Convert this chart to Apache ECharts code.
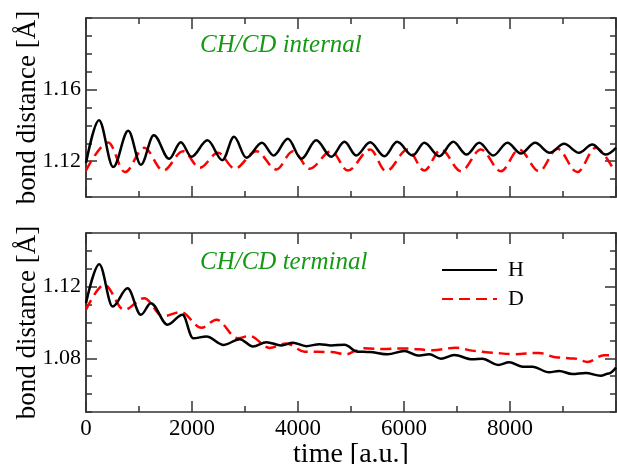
<!DOCTYPE html>
<html>
<head>
<meta charset="utf-8">
<script src="https://cdn.jsdelivr.net/npm/echarts@6/dist/echarts.min.js"></script>
<style>
html,body{margin:0;padding:0;background:#fff;}
#chart{width:617px;height:464px;}
</style>
</head>
<body>
<div id="chart"></div>
<script>
// ---- Data (time in a.u., bond distance in Å) ----
const legendNames = ['H', 'D'];
const panelTitles = ['CH/CD internal', 'CH/CD terminal'];
const xTickLabels = [0, 2000, 4000, 6000, 8000];
const yTickLabelsTop = [1.12, 1.16];
const yTickLabelsBottom = [1.08, 1.12];

// internal, H
const tIntH = [0, 245, 514, 797, 1036, 1280, 1569, 1789, 1990, 2292, 2574, 2793, 3026, 3320, 3540, 3809, 4062, 4344, 4627, 4877, 5097, 5361, 5630, 5869, 6163, 6383, 6666, 6929, 7180, 7419, 7683, 7952, 8204, 8474, 8750, 9020, 9302, 9553, 9805, 10000];
const vIntH = [1.119, 1.1429, 1.1167, 1.137, 1.118, 1.1345, 1.1213, 1.1306, 1.1225, 1.1317, 1.1206, 1.1336, 1.1219, 1.1303, 1.1232, 1.1325, 1.1213, 1.1317, 1.1225, 1.1308, 1.1232, 1.1306, 1.1228, 1.1308, 1.1232, 1.1303, 1.1228, 1.1308, 1.1237, 1.1303, 1.1232, 1.1303, 1.1243, 1.1303, 1.1247, 1.1297, 1.1247, 1.1293, 1.1237, 1.1275];
// internal, D
const tIntD = [0, 420, 734, 1098, 1456, 1832, 2147, 2491, 2806, 3214, 3591, 3904, 4218, 4627, 4939, 5361, 5662, 6069, 6383, 6698, 7075, 7451, 7828, 8172, 8549, 8894, 9270, 9617, 9961];
const vIntD = [1.1148, 1.1305, 1.1139, 1.1275, 1.1148, 1.1256, 1.1163, 1.1247, 1.1159, 1.1256, 1.1154, 1.1256, 1.1158, 1.1256, 1.1148, 1.1265, 1.1144, 1.1265, 1.1148, 1.1265, 1.1144, 1.1265, 1.1144, 1.1265, 1.1144, 1.1269, 1.1139, 1.1275, 1.115];
// terminal, H
const tTermH = [0, 250, 503, 785, 1036, 1224, 1538, 1821, 2021, 2273, 2599, 2900, 3150, 3403, 3685, 3904, 4156, 4406, 4627, 4877, 5128, 5348, 5692, 6007, 6257, 6478, 6698, 6948, 7293, 7476, 7777, 7984, 8234, 8423, 8737, 8925, 9176, 9428, 9711, 9867, 10000];
const vTermH = [1.1108, 1.1325, 1.1089, 1.1191, 1.1043, 1.1108, 1.0988, 1.1043, 1.0912, 1.0922, 1.0875, 1.0907, 1.0866, 1.089, 1.0872, 1.0887, 1.0868, 1.0879, 1.0872, 1.0876, 1.0837, 1.0835, 1.0822, 1.0841, 1.0816, 1.0822, 1.0798, 1.0818, 1.0794, 1.0798, 1.0763, 1.0778, 1.0753, 1.0753, 1.0722, 1.0729, 1.0712, 1.0718, 1.0702, 1.0715, 1.0748];
// terminal, D
const tTermD = [0, 345, 721, 1098, 1450, 1789, 2179, 2461, 2862, 3088, 3464, 3779, 4124, 4627, 4909, 5097, 5254, 5598, 6007, 6540, 6980, 7357, 7607, 8046, 8549, 8894, 9208, 9460, 9773, 10000];
const vTermD = [1.1071, 1.1211, 1.1071, 1.1136, 1.1035, 1.1058, 1.097, 1.1016, 1.0912, 1.0925, 1.0858, 1.0883, 1.0837, 1.0835, 1.0822, 1.0842, 1.0856, 1.0852, 1.0855, 1.0845, 1.0859, 1.0841, 1.0832, 1.0823, 1.083, 1.0805, 1.0799, 1.078, 1.0817, 1.0817];

const zip = (t, v) => t.map((x, i) => [x, v[i]]);

const FONT = 'Liberation Serif';
const AXC = '#333';
const GREEN = '#169a16';

function xAx(gridIndex, position, withLabels) {
  const a = {
    type: 'value', gridIndex, position, min: 0, max: 10000, interval: 2000, offset: 0,
    axisLine: { show: true, onZero: false, lineStyle: { color: AXC, width: 1.5 } },
    axisTick: { show: true, inside: true, length: 11, lineStyle: { color: AXC, width: 1.5 } },
    minorTick: { show: true, splitNumber: 2, length: 6, lineStyle: { color: AXC, width: 1.5 } },
    splitLine: { show: false },
    axisLabel: { show: false }
  };
  if (withLabels) {
    a.axisLabel = {
      show: true, color: '#000', fontFamily: FONT, fontSize: 23, margin: 5,
      formatter: v => (xTickLabels.indexOf(v) >= 0 ? String(v) : '')
    };
    a.name = 'time [a.u.]';
    a.nameLocation = 'middle';
    a.nameGap = 29;
    a.nameMoveOverlap = false;
    a.nameTextStyle = { color: '#000', fontFamily: FONT, fontSize: 28 };
  }
  return a;
}

function yMajor(gridIndex, position, min, max, ticks, withLabels) {
  const a = {
    type: 'value', gridIndex, position, min, max, offset: 0,
    axisLine: { show: true, onZero: false, lineStyle: { color: AXC, width: 1.5 } },
    axisTick: { show: true, inside: true, length: 11, customValues: ticks, lineStyle: { color: AXC, width: 1.5 } },
    splitLine: { show: false },
    axisLabel: { show: false }
  };
  if (withLabels) {
    a.axisLabel = {
      show: true, customValues: ticks, color: '#000', fontFamily: FONT, fontSize: 22, margin: 5,
      formatter: v => v.toFixed(2)
    };
    a.name = 'bond distance [Å]';
    a.nameLocation = 'middle';
    a.nameRotate = 90;
    a.nameGap = 45;
    a.nameMoveOverlap = false;
    a.nameTextStyle = { color: '#000', fontFamily: FONT, fontSize: 27 };
  }
  return a;
}

function yMinor(gridIndex, position, min, max) {
  return {
    type: 'value', gridIndex, position, min, max, interval: 0.01, offset: 0,
    axisLine: { show: true, onZero: false, lineStyle: { color: AXC, width: 1.5 } },
    axisTick: { show: true, inside: true, length: 6, lineStyle: { color: AXC, width: 1.5 } },
    splitLine: { show: false },
    axisLabel: { show: false }
  };
}

const hLine = { color: '#000', width: 2.5, type: 'solid' };
const dLine = { color: '#f00', width: 2.5, type: [11, 6] };

function series(name, data, xi, yi, ls) {
  return {
    name, type: 'line', data, xAxisIndex: xi, yAxisIndex: yi,
    showSymbol: false, symbol: 'none', smooth: 0.35, smoothMonotone: 'x', lineStyle: ls,
    itemStyle: { color: ls.color }, animation: false, z: name === 'H' ? 3 : 2
  };
}

const option = {
  animation: false,
  backgroundColor: '#fff',
  grid: [
    { left: 86, right: 1, top: 18, height: 179, containLabel: false, outerBoundsMode: 'none' },
    { left: 86, right: 1, top: 233, height: 179, containLabel: false, outerBoundsMode: 'none' }
  ],
  title: [
    { text: panelTitles[0], left: 195, top: 28, padding: 5, textStyle: { color: GREEN, fontFamily: FONT, fontStyle: 'italic', fontWeight: 'normal', fontSize: 25 } },
    { text: panelTitles[1], left: 195, top: 245, padding: 5, textStyle: { color: GREEN, fontFamily: FONT, fontStyle: 'italic', fontWeight: 'normal', fontSize: 25 } }
  ],
  legend: {
    data: legendNames, orient: 'vertical', left: 441, top: 259, padding: 0,
    itemWidth: 55, itemHeight: 14, itemGap: 7,
    itemStyle: { opacity: 0 },
    textStyle: { color: '#000', fontFamily: FONT, fontSize: 22, padding: [0, 0, 0, 6] },
    selectedMode: false
  },
  xAxis: [
    xAx(0, 'bottom', false), xAx(0, 'top', false),
    xAx(1, 'bottom', true), xAx(1, 'top', false)
  ],
  yAxis: [
    yMajor(0, 'left', 1.10, 1.20, yTickLabelsTop, true),
    yMinor(0, 'left', 1.10, 1.20),
    yMajor(0, 'right', 1.10, 1.20, yTickLabelsTop, false),
    yMinor(0, 'right', 1.10, 1.20),
    yMajor(1, 'left', 1.05, 1.15, yTickLabelsBottom, true),
    yMinor(1, 'left', 1.05, 1.15),
    yMajor(1, 'right', 1.05, 1.15, yTickLabelsBottom, false),
    yMinor(1, 'right', 1.05, 1.15)
  ],
  series: [
    series('H', zip(tIntH, vIntH), 0, 0, hLine),
    series('D', zip(tIntD, vIntD), 0, 0, dLine),
    series('H', zip(tTermH, vTermH), 2, 4, hLine),
    series('D', zip(tTermD, vTermD), 2, 4, dLine)
  ]
};

const chart = echarts.init(document.getElementById('chart'), null, { renderer: 'canvas' });
chart.setOption(option);
</script>
</body>
</html>
